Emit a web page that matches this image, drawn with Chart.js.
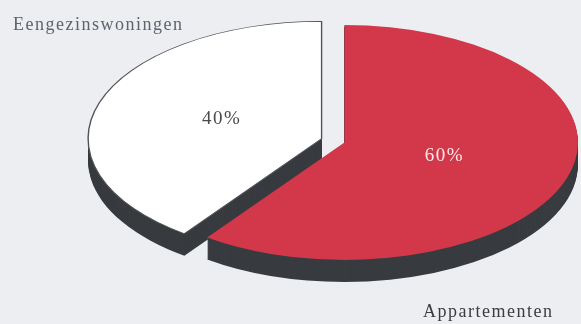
<!DOCTYPE html>
<html>
<head>
<meta charset="utf-8">
<script src="https://cdn.jsdelivr.net/npm/chart.js@4.4.1/dist/chart.umd.min.js"></script>
<style>
  html, body { margin: 0; padding: 0; background: #eceef1; }
  canvas { display: block; }
</style>
</head>
<body>
<canvas id="woningen" width="581" height="324"></canvas>
<script>
// slices run clockwise from 12 o'clock
const categories = ['Appartementen', 'Eengezinswoningen']
const shares = [60, 40]
const sliceColors = ['#d3384a', '#ffffff']
const labelColors = ['#fbe9ec', '#4a4a4a']

// fake-3d look: squash the pie, push it down for the side walls
const SQUASH = 0.503
const DEPTH = 22
const EXPLODE = 12
const CENTER_Y = 140.6
const SIDE_COLOR = '#383b3f'
const FONT = '"Liberation Serif", "Times New Roman", serif'

function tilt(ctx, arc, dy) {
    const mid = (arc.startAngle + arc.endAngle) / 2
    ctx.translate(0, CENTER_Y)
    ctx.scale(1, SQUASH)
    ctx.translate(Math.cos(mid) * EXPLODE, -arc.y + Math.sin(mid) * EXPLODE + dy / SQUASH)
}

const pie3d = {
    id: 'pie3d',
    beforeDatasetsDraw(chart) {
        const ctx = chart.ctx
        const arcs = chart.getDatasetMeta(0).data

        // side walls first, the top faces cover what is hidden
        ctx.save()
        ctx.fillStyle = SIDE_COLOR
        arcs.forEach(arc => {
            for (let dy = DEPTH; dy > 0; dy--) {
                ctx.save()
                tilt(ctx, arc, dy)
                ctx.beginPath()
                ctx.moveTo(arc.x, arc.y)
                ctx.arc(arc.x, arc.y, arc.outerRadius, arc.startAngle, arc.endAngle)
                ctx.closePath()
                ctx.fill()
                ctx.restore()
            }
        })
        ctx.restore()

        arcs.forEach(arc => {
            ctx.save()
            tilt(ctx, arc, 0)
            arc.draw(ctx)
            ctx.restore()
        })
        return false
    },
    afterDraw(chart) {
        const ctx = chart.ctx
        const arcs = chart.getDatasetMeta(0).data

        ctx.save()
        ctx.font = '19px ' + FONT
        ctx.textAlign = 'center'
        ctx.textBaseline = 'middle'
        ctx.letterSpacing = '1.5px'
        arcs.forEach((arc, i) => {
            const mid = (arc.startAngle + arc.endAngle) / 2
            const r = arc.outerRadius * 0.45 + EXPLODE
            const x = arc.x + Math.cos(mid) * r
            const y = CENTER_Y + SQUASH * Math.sin(mid) * r - 3
            ctx.fillStyle = labelColors[i]
            ctx.fillText(shares[i] + '%', x, y)
        })

        // category names sit outside the pie
        ctx.font = '18px ' + FONT
        ctx.textBaseline = 'alphabetic'
        ctx.textAlign = 'left'
        ctx.fillStyle = '#5b6470'
        ctx.fillText(categories[1], 13, 30)
        ctx.fillStyle = '#3c3c3e'
        ctx.fillText(categories[0], 423, 317)
        ctx.restore()
    }
}

new Chart(document.getElementById('woningen'), {
    type: 'pie',
    data: {
        labels: categories,
        datasets: [{
            data: shares,
            backgroundColor: sliceColors,
            borderColor: ['#d3384a', '#505357'],
            borderWidth: [0, 1.4],
            clip: false
        }]
    },
    options: {
        responsive: false,
        devicePixelRatio: 1,
        animation: false,
        radius: 233.5,
        layout: {padding: {left: 85}},
        plugins: {
            legend: {display: false},
            tooltip: {enabled: false}
        }
    },
    plugins: [pie3d]
})
</script>
</body>
</html>
